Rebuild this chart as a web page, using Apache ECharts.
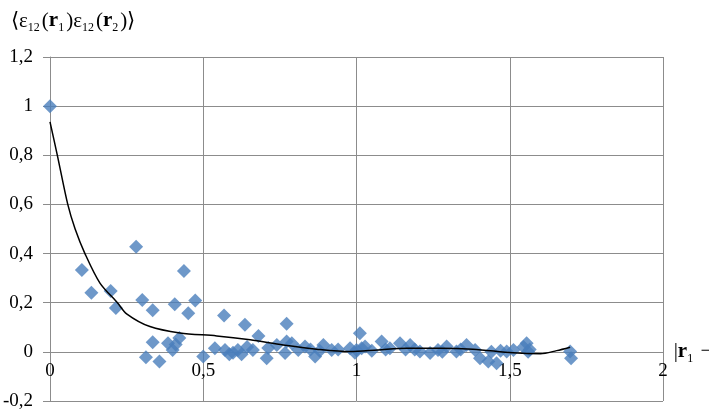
<!DOCTYPE html>
<html>
<head>
<meta charset="utf-8">
<script src="https://cdn.jsdelivr.net/npm/echarts@6/dist/echarts.min.js"></script>
<style>
  html, body { margin: 0; padding: 0; background: #fff; }
  #chart { width: 709px; height: 412px; }
</style>
</head>
<body>
<div id="chart"></div>
<script>
// measured points  (|r1 - r2|, correlation)
var pointX = [0, 0.104, 0.135, 0.198, 0.215, 0.281, 0.301, 0.313, 0.335, 0.335,
	0.357, 0.385, 0.400, 0.407, 0.410, 0.422, 0.437, 0.451, 0.474, 0.500,
	0.538, 0.568, 0.571, 0.585, 0.597, 0.613, 0.625, 0.636, 0.643, 0.662,
	0.680, 0.707, 0.712, 0.740, 0.767, 0.772, 0.772, 0.789, 0.810, 0.832,
	0.850, 0.865, 0.880, 0.892, 0.919, 0.940, 0.979, 0.995, 1.000, 1.011,
	1.017, 1.028, 1.050, 1.082, 1.095, 1.109, 1.142, 1.160, 1.175, 1.190,
	1.207, 1.240, 1.266, 1.280, 1.294, 1.326, 1.340, 1.359, 1.387, 1.403,
	1.430, 1.440, 1.457, 1.470, 1.490, 1.512, 1.545, 1.555, 1.560, 1.565,
	1.697, 1.700];
var pointY = [1.0, 0.333, 0.241, 0.248, 0.178, 0.428, 0.211, -0.022, 0.169, 0.039,
	-0.039, 0.035, 0.008, 0.194, 0.030, 0.056, 0.329, 0.157, 0.209, -0.019,
	0.015, 0.148, 0.008, -0.010, -0.004, 0.008, -0.010, 0.110, 0.020, 0.008,
	0.065, -0.026, 0.016, 0.028, -0.005, 0.114, 0.042, 0.035, 0.008, 0.022,
	0.010, -0.019, 0.005, 0.028, 0.008, 0.010, 0.015, -0.004, 0.008, 0.076,
	0.015, 0.022, 0.005, 0.042, 0.010, 0.015, 0.035, 0.010, 0.028, 0.010,
	0.001, -0.005, 0.008, 0.000, 0.022, 0.001, 0.010, 0.028, 0.008, -0.026,
	-0.039, 0.000, -0.046, 0.005, 0.001, 0.008, 0.020, 0.035, 0.000, 0.010,
	0.001, -0.026];

// trend line
var trendX = [0, 0.024, 0.058, 0.082, 0.114, 0.163, 0.22, 0.25, 0.326, 0.424,
	0.544, 0.653, 0.761, 0.87, 0.979, 1.07, 1.164, 1.27, 1.38, 1.51,
	1.60, 1.653, 1.697];
var trendY = [0.936, 0.8, 0.6, 0.5, 0.4, 0.28, 0.2, 0.155, 0.103, 0.077,
	0.065, 0.049, 0.028, 0.011, 0.001, 0.008, 0.015, 0.015, 0.011, -0.004,
	-0.008, 0.005, 0.019];

var pointData = [];
for (var i = 0; i < pointX.length; i++) {
	pointData.push([pointX[i], pointY[i]]);
}
var trendData = [];
for (var j = 0; j < trendX.length; j++) {
	trendData.push([trendX[j], trendY[j]]);
}

function commaLabel(v) {
	return String(Math.round(v * 10) / 10).replace('.', ',');
}

var font = 'Liberation Serif';
var gridColor = '#8c8c8c';

// rich styles for the formula-like labels
var richText = {
	n: { fontFamily: font, fontSize: 21, fontWeight: 'normal', color: '#000', lineHeight: 26, verticalAlign: 'middle' },
	b: { fontFamily: font, fontSize: 21, fontWeight: 'bold', color: '#000', lineHeight: 26, verticalAlign: 'middle' },
	s: { fontFamily: font, fontSize: 12, fontWeight: 'normal', color: '#000', lineHeight: 12, verticalAlign: 'bottom', padding: [0, 2, 0, 0] }
};

var gridTop = 57, gridBottom = 11, chartH = 412;
var yMin = -0.2, yMax = 1.2;
// x axis sits on y = 0, like the Excel chart
var zeroOffset = -(chartH - gridTop - gridBottom) * (0 - yMin) / (yMax - yMin);

var myChart = echarts.init(document.getElementById('chart'));
var option = {
	backgroundColor: '#fff',
	animation: false,
	title: {
		left: 6,
		top: 3,
		text: '{n|\u27e8\u03b5}{s|12}{n|(}{b|r}{s|1}{n|)\u03b5}{s|12}{n|(}{b|r}{s|2}{n|)\u27e9}',
		textStyle: { fontWeight: 'normal', rich: richText }
	},
	grid: { left: 50, right: 46, top: gridTop, bottom: gridBottom, outerBoundsMode: 'none', containLabel: false },
	xAxis: {
		type: 'value',
		min: 0,
		max: 2,
		interval: 0.5,
		position: 'bottom',
		offset: zeroOffset,
		name: '{n||}{b|r}{s|1}{n| \u2212}',
		nameLocation: 'end',
		nameGap: 10,
		nameTextStyle: { fontWeight: 'normal', rich: richText },
		axisLine: { onZero: false, lineStyle: { color: gridColor, width: 1 } },
		axisTick: { show: false },
		axisLabel: { formatter: commaLabel, fontFamily: font, fontSize: 19, color: '#000', margin: 10 },
		splitLine: { show: true, lineStyle: { color: gridColor, width: 1 } }
	},
	yAxis: {
		type: 'value',
		min: yMin,
		max: yMax,
		interval: 0.2,
		axisLine: { show: true, lineStyle: { color: gridColor, width: 1 } },
		axisTick: { show: true, length: 7, lineStyle: { color: gridColor } },
		axisLabel: { formatter: commaLabel, fontFamily: font, fontSize: 19, color: '#000', margin: 17 },
		splitLine: { show: true, lineStyle: { color: gridColor, width: 1 } }
	},
	series: [
		{
			type: 'scatter',
			symbol: 'diamond',
			symbolSize: 14,
			itemStyle: { color: '#4a7ebb' },
			data: pointData,
			z: 2
		},
		{
			type: 'line',
			smooth: 0.3,
			showSymbol: false,
			lineStyle: { color: '#000', width: 1.5 },
			data: trendData,
			z: 3
		}
	]
};
myChart.setOption(option);
</script>
</body>
</html>
